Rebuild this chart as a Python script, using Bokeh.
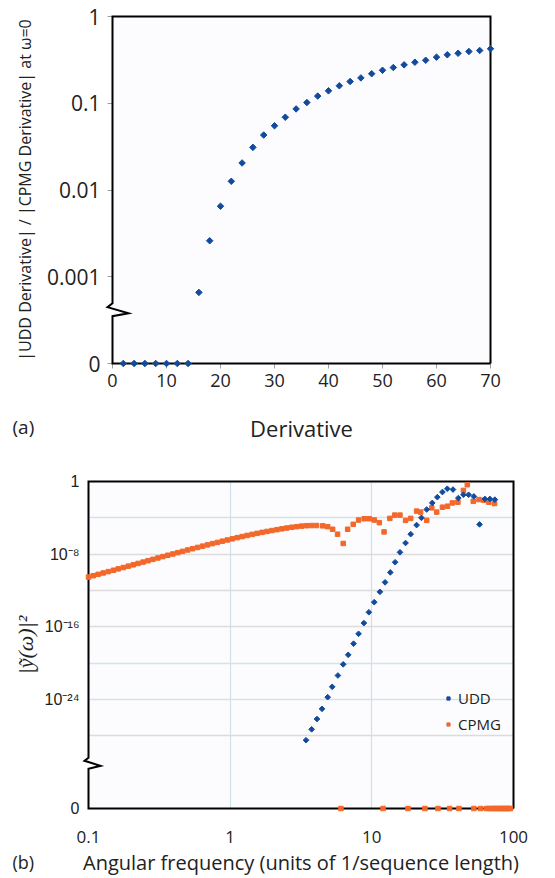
import math
from bokeh.plotting import figure
from bokeh.layouts import column
from bokeh.models import (Range1d, FixedTicker, Legend, LegendItem,
                          ColumnDataSource, Grid)
from bokeh.core.properties import value
from bokeh.embed import file_html
from bokeh.resources import INLINE

# ---------------- data: panel (a) ----------------
derivative_order = [2, 4, 6, 8, 10, 12, 14, 16, 18, 20, 22, 24, 26, 28, 30, 32, 34,
                    36, 38, 40, 42, 44, 46, 48, 50, 52, 54, 56, 58, 60, 62, 64, 66, 68, 70]
derivative_ratio = [0, 0, 0, 0, 0, 0, 0, 6.6e-4, 2.6e-3, 6.5e-3, 1.26e-2, 2.05e-2, 3.1e-2,
                    4.3e-2, 5.5e-2, 6.9e-2, 8.6e-2, 0.102, 0.121, 0.139, 0.159, 0.178,
                    0.196, 0.219, 0.240, 0.258, 0.277, 0.297, 0.313, 0.340, 0.362, 0.377,
                    0.395, 0.406, 0.425]
a_x_ticks = [0, 10, 20, 30, 40, 50, 60, 70]
a_y_ticks = [1e-4, 1e-3, 1e-2, 1e-1, 1]
a_y_labels = ["0", "0.001", "0.01", "0.1", "1"]

# ---------------- data: panel (b) ----------------
udd_freq = [3.43, 3.76, 4.10, 4.45, 4.88, 5.25, 5.76, 6.28, 6.81, 7.43,
            8.06, 8.79, 9.53, 10.4, 11.4, 12.4, 13.5, 14.6, 15.8, 17.3,
            18.8, 20.7, 22.4, 24.4, 26.7, 29.0, 31.5, 34.1, 37.4, 40.8,
            44.3, 48.2, 52.5, 57.6, 62.8, 68.1, 73.8]
udd_power = [3.3e-29, 5.2e-28, 7.1e-27, 9.3e-26, 1.8e-24, 2.5e-23, 4.4e-22, 7.4e-21, 8.3e-20, 1.4e-18,
             1.7e-17, 2.6e-16, 4.0e-15, 5.2e-14, 7.1e-13, 7.9e-12, 9.8e-11, 1.3e-9, 1.6e-8, 1.7e-7,
             1.6e-6, 1.6e-5, 1.0e-4, 8.3e-4, 4.4e-3, 1.9e-2, 6.9e-2, 0.16, 0.13, 1.5e-2,
             3.5e-2, 3.5e-2, 2.3e-2, 1.9e-5, 1.2e-2, 1.2e-2, 1.0e-2]

cpmg_freq = [0.100, 0.108, 0.117, 0.127, 0.138, 0.150, 0.162, 0.176, 0.191, 0.207,
             0.224, 0.243, 0.263, 0.285, 0.309, 0.335, 0.363, 0.394, 0.427, 0.462,
             0.501, 0.543, 0.589, 0.638, 0.692, 0.750, 0.813, 0.881, 0.955, 1.035,
             1.122, 1.216, 1.318, 1.429, 1.549, 1.679, 1.820, 1.972, 2.138, 2.317,
             2.512, 2.723, 2.951, 3.199, 3.467, 3.758, 4.074,
             4.50, 4.88, 5.29, 5.73, 6.28, 6.75, 7.39, 8.06, 8.83, 9.58,
             10.4, 11.3, 12.2, 13.4, 14.5, 15.8, 17.3, 18.8, 20.7, 22.1,
             24.4, 26.5, 28.7, 31.5, 34.2, 37.0, 40.5, 44.3, 47.2, 52.0,
             57.0, 61.8, 67.0, 73.5]
cpmg_power = [3.02e-11, 4.27e-11, 6.03e-11, 8.51e-11, 1.20e-10, 1.70e-10, 2.40e-10, 3.39e-10, 4.79e-10, 6.76e-10,
              9.55e-10, 1.35e-9, 1.91e-9, 2.69e-9, 3.80e-9, 5.37e-9, 7.59e-9, 1.05e-8, 1.48e-8, 2.04e-8,
              2.88e-8, 3.98e-8, 5.50e-8, 7.59e-8, 1.05e-7, 1.45e-7, 1.95e-7, 2.69e-7, 3.63e-7, 4.90e-7,
              6.61e-7, 8.71e-7, 1.15e-6, 1.51e-6, 1.95e-6, 2.51e-6, 3.16e-6, 3.98e-6, 5.01e-6, 6.17e-6,
              7.59e-6, 9.12e-6, 1.07e-5, 1.23e-5, 1.35e-5, 1.41e-5, 1.41e-5,
              1.32e-5, 1.07e-5, 5.50e-6, 1.58e-6, 1.51e-7, 5.50e-6, 1.95e-5, 5.75e-5, 7.94e-5, 7.94e-5,
              5.75e-5, 2.95e-5, 2.82e-6, 8.71e-5, 2.00e-4, 2.00e-4, 5.25e-5, 8.71e-5, 5.50e-4, 4.27e-4,
              5.25e-5, 1.26e-3, 4.27e-4, 1.48e-3, 1.91e-3, 4.37e-3, 5.25e-3, 0.105, 0.437, 6.61e-3,
              1.02e-2, 8.51e-3, 5.25e-3, 3.72e-3]
# frequencies at which the CPMG filter function is exactly zero (drawn on the "0" line)
cpmg_zero_freq = [6.05, 12.0, 18.0, 23.7, 29.3, 35.4, 41.2, 52.5, 58.6, 64.3,
                  67.5, 70.0, 72.5, 75.0, 77.5, 80.0, 82.5, 85.0, 87.5, 90.0, 92.5, 95.0]

b_x_ticks = [0.1, 1, 10, 100]
b_x_labels = ["0.1", "1", "10", "100"]
b_y_ticks = [1e-36, 1e-24, 1e-16, 1e-8, 1]
b_y_labels = ["0", "10\u207b\u00b2\u2074", "10\u207b\u00b9\u2076", "10\u207b\u2078", "1"]
b_grid_blue = [1e-4, 1e-20, 1e-24]
b_grid_gray = [1e-8, 1e-12, 1e-16, 1e-28]
b_vgrid = [1, 10]

# ---------------- style ----------------
BLUE = "#134b9c"
ORANGE = "#f2682a"
FRAME_BG = "#fcfcfe"
SANS = "Open Sans"
W = 555

# axis "zero" positions on the broken log axes
ZERO_A = 1e-4
ZERO_B = 1e-36
BREAK_A_LOG = -3.42
BREAK_B_LOG = -31.3


def no_frame_align(p):
    try:
        p.frame_align = False
    except Exception:
        pass


# ---------------- panel (a) ----------------
A_H, A_L, A_R, A_T, A_B = 449, 112, 65, 16, 86
pa = figure(width=W, height=A_H, x_range=Range1d(0, 70), y_range=Range1d(ZERO_A, 1),
            y_axis_type="log", output_backend="svg", toolbar_location=None,
            min_border_left=A_L, min_border_right=A_R, min_border_top=A_T, min_border_bottom=A_B,
            background_fill_color=FRAME_BG, border_fill_color="white", outline_line_color=None)
no_frame_align(pa)
pa.grid.visible = False
fw_a = W - A_L - A_R
fh_a = A_H - A_T - A_B

pa.xaxis.ticker = FixedTicker(ticks=a_x_ticks)
pa.yaxis.ticker = FixedTicker(ticks=a_y_ticks)
pa.yaxis.major_label_overrides = {t: l for t, l in zip(a_y_ticks, a_y_labels)}
for ax in (pa.xaxis[0], pa.yaxis[0]):
    ax.axis_line_color = None
    ax.major_tick_line_color = "#a0a0a0"
    ax.major_tick_out = 5
    ax.major_tick_in = 0
    ax.minor_tick_line_color = None
    ax.major_label_text_font = SANS
    ax.major_label_text_color = "#222222"
    ax.axis_label_text_font = SANS
    ax.axis_label_text_font_style = "normal"
    ax.axis_label_text_color = "#222222"
pa.xaxis.major_label_text_font_size = "18px"
pa.yaxis.major_label_text_font_size = "21px"
pa.xaxis.major_label_standoff = 5
pa.yaxis.major_label_standoff = 7
pa.xaxis.axis_label = "Derivative"
pa.xaxis.axis_label_text_font_size = "22px"
pa.xaxis.axis_label_standoff = 23
pa.yaxis.axis_label = "|UDD Derivative| / |CPMG Derivative| at \u03c9=0"
pa.yaxis.axis_label_text_font_size = "16px"
pa.yaxis.axis_label_standoff = 8


def pos_a(dx, dy):
    """pixel offsets from the frame's left edge / the axis break -> data coords"""
    return 0 + dx * 70 / fw_a, 10 ** (BREAK_A_LOG - dy * 4 / fh_a)


zz = [pos_a(0, 3), pos_a(16, 0), pos_a(-5, -6), pos_a(0, -10)]
fx = [70, 0, 0] + [p[0] for p in zz] + [0, 70, 70]
fy = [ZERO_A, ZERO_A, zz[0][1]] + [p[1] for p in zz] + [1, 1, ZERO_A]
pa.line(fx, fy, line_color="black", line_width=2, line_join="miter", level="overlay")

src_a = ColumnDataSource(dict(x=derivative_order,
                              y=[v if v > 0 else ZERO_A for v in derivative_ratio]))
pa.scatter("x", "y", source=src_a, marker="square", angle=math.pi / 4, size=4.6,
           fill_color=BLUE, line_color=BLUE, level="overlay")

tag_a = pos_a(-100, 114)
pa.text(x=[tag_a[0]], y=[tag_a[1]], text=["(a)"], text_font=value(SANS),
        text_font_size=value("19px"), text_baseline=value("middle"),
        text_align=value("left"), text_color="#222222", level="overlay")

# ---------------- panel (b) ----------------
B_H, B_L, B_R, B_T, B_B = 429, 88, 42, 32, 69
pb = figure(width=W, height=B_H, x_range=Range1d(0.1, 100), y_range=Range1d(ZERO_B, 1),
            x_axis_type="log", y_axis_type="log", output_backend="svg", toolbar_location=None,
            min_border_left=B_L, min_border_right=B_R, min_border_top=B_T, min_border_bottom=B_B,
            background_fill_color=FRAME_BG, border_fill_color="white", outline_line_color=None)
no_frame_align(pb)
fw_b = W - B_L - B_R
fh_b = B_H - B_T - B_B

pb.xaxis.ticker = FixedTicker(ticks=b_x_ticks)
pb.xaxis.major_label_overrides = {t: l for t, l in zip(b_x_ticks, b_x_labels)}
pb.yaxis.ticker = FixedTicker(ticks=b_y_ticks)
pb.yaxis.major_label_overrides = {t: l for t, l in zip(b_y_ticks, b_y_labels)}
for ax in (pb.xaxis[0], pb.yaxis[0]):
    ax.axis_line_color = None
    ax.major_tick_line_color = None
    ax.minor_tick_line_color = None
    ax.major_label_text_color = "#222222"
    ax.axis_label_text_color = "#222222"
pb.xaxis.major_label_text_font = SANS
pb.xaxis.major_label_text_font_size = "17px"
pb.xaxis.major_label_standoff = 16
pb.yaxis.major_label_text_font = "Liberation Sans"
pb.yaxis.major_label_text_font_size = "16px"
pb.yaxis.major_label_standoff = 3
pb.xaxis.axis_label = "Angular frequency (units of 1/sequence length)"
pb.xaxis.axis_label_text_font = SANS
pb.xaxis.axis_label_text_font_style = "normal"
pb.xaxis.axis_label_text_font_size = "20px"
pb.xaxis.axis_label_standoff = 3
pb.yaxis.axis_label = "|\u1ef9(\u03c9)|\u00b2"
pb.yaxis.axis_label_text_font = "Liberation Serif"
pb.yaxis.axis_label_text_font_style = "italic"
pb.yaxis.axis_label_text_font_size = "22px"
pb.yaxis.axis_label_standoff = 4

pb.xgrid.ticker = FixedTicker(ticks=b_vgrid)
pb.xgrid.grid_line_color = "#cfe1ea"
pb.xgrid.grid_line_width = 1.2
pb.ygrid.ticker = FixedTicker(ticks=b_grid_gray)
pb.ygrid.grid_line_color = "#dcdcdc"
pb.ygrid.grid_line_width = 1.4
pb.add_layout(Grid(dimension=1, ticker=FixedTicker(ticks=b_grid_blue),
                   grid_line_color="#d3e3ec", grid_line_width=1.4))


def pos_b(dx, dy):
    """pixel offsets from the frame's left edge / the axis break -> data coords"""
    return 10 ** (-1 + dx * 3 / fw_b), 10 ** (BREAK_B_LOG - dy * 36 / fh_b)


zz = [pos_b(0, 3), pos_b(12, 0), pos_b(-4, -5), pos_b(0, -8)]
fx = [100, 0.1, 0.1] + [p[0] for p in zz] + [0.1, 100, 100]
fy = [ZERO_B, ZERO_B, zz[0][1]] + [p[1] for p in zz] + [1, 1, ZERO_B]
pb.line(fx, fy, line_color="black", line_width=2, line_join="miter", level="overlay")

src_c = ColumnDataSource(dict(x=cpmg_freq + cpmg_zero_freq,
                              y=[v if v > 0 else ZERO_B for v in cpmg_power]
                                + [ZERO_B for _ in cpmg_zero_freq]))
r_c = pb.scatter("x", "y", source=src_c, marker="square", size=4.5,
                 fill_color=ORANGE, line_color=ORANGE, level="overlay")
src_u = ColumnDataSource(dict(x=udd_freq, y=udd_power))
r_u = pb.scatter("x", "y", source=src_u, marker="square", angle=math.pi / 4, size=4,
                 fill_color=BLUE, line_color=BLUE, level="overlay")

leg = Legend(items=[LegendItem(label="UDD", renderers=[r_u]),
                    LegendItem(label="CPMG", renderers=[r_c])],
             location=(356, 74), background_fill_alpha=0, border_line_color=None,
             label_text_font=SANS, label_text_font_size="15px", label_text_color="#222222",
             glyph_width=8, glyph_height=16, label_height=16, label_standoff=6,
             spacing=6, padding=0, margin=0, level="overlay")
pb.add_layout(leg)

# "(b)" tag: 100 px left of the frame, 54 px below the frame's bottom edge
tag_b = (10 ** (-1 - 76 * 3 / fw_b), 10 ** (math.log10(ZERO_B) - 54 * 36 / fh_b))
pb.text(x=[tag_b[0]], y=[tag_b[1]], text=["(b)"], text_font=value(SANS),
        text_font_size=value("18px"), text_baseline=value("middle"),
        text_align=value("left"), text_color="#222222", level="overlay")

layout = column(pa, pb, spacing=0)
open("out.html", "w").write(file_html(layout, INLINE))
